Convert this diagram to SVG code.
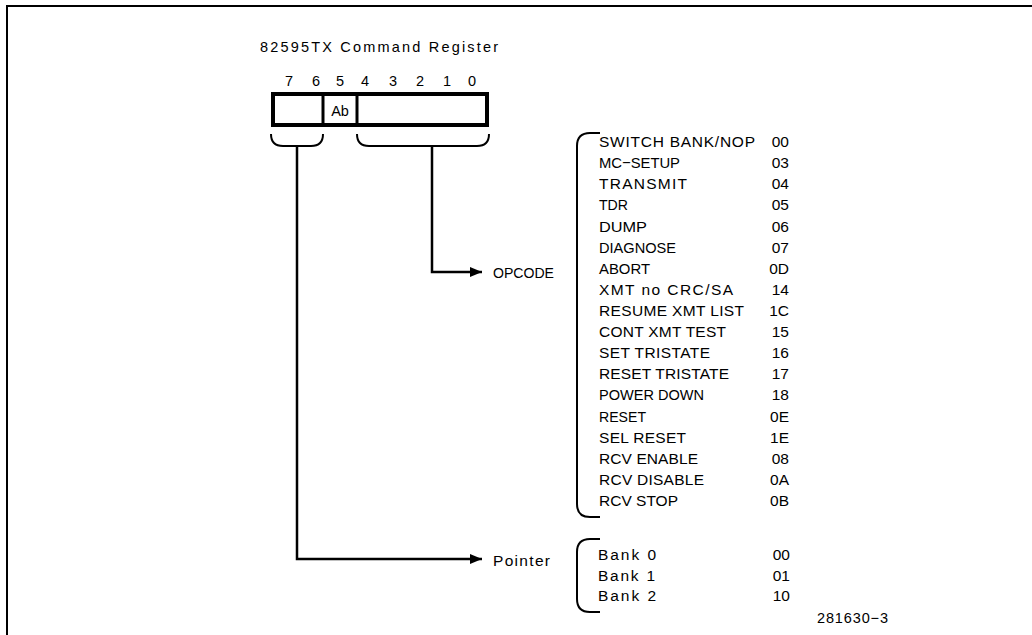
<svg xmlns="http://www.w3.org/2000/svg" width="1032" height="635" viewBox="0 0 1032 635">
<defs>
<style>
text{font-family:"Liberation Sans",Arial,sans-serif;fill:#000}
.t{font-size:15.5px}
.n{font-size:14.5px}
.c{font-size:15.5px;text-anchor:end}
.ln{fill:none;stroke:#000;stroke-width:2.5}
.br{fill:none;stroke:#000;stroke-width:2}
</style>
<marker id="ah" viewBox="0 0 12 10" refX="12" refY="5" markerWidth="12" markerHeight="10" markerUnits="userSpaceOnUse" orient="auto">
<path d="M0,0 L12,5 L0,10 Z" fill="#000"/>
</marker>
</defs>
<rect width="1032" height="635" fill="#fff"/>
<path d="M7,640 V6 H1040" fill="none" stroke="#000" stroke-width="2"/>

<g id="register">
<text x="260" y="52" class="n" textLength="238" lengthAdjust="spacing">82595TX Command Register</text>
<text x="289" y="86" class="n" text-anchor="middle">7</text>
<text x="316" y="86" class="n" text-anchor="middle">6</text>
<text x="340" y="86" class="n" text-anchor="middle">5</text>
<text x="365" y="86" class="n" text-anchor="middle">4</text>
<text x="393" y="86" class="n" text-anchor="middle">3</text>
<text x="420" y="86" class="n" text-anchor="middle">2</text>
<text x="447" y="86" class="n" text-anchor="middle">1</text>
<text x="472" y="86" class="n" text-anchor="middle">0</text>
<rect x="273" y="94" width="214" height="31" fill="#fff" stroke="#000" stroke-width="4"/>
<line x1="323" y1="94" x2="323" y2="125" stroke="#000" stroke-width="3"/>
<line x1="357" y1="94" x2="357" y2="125" stroke="#000" stroke-width="3"/>
<text x="340" y="115.5" class="n" text-anchor="middle">Ab</text>
</g>

<g id="braces">
<path class="br" d="M271,134 Q271,146 283,146 H311 Q323,146 323,134"/>
<path class="br" d="M357,134 Q357,146 369,146 H477 Q489,146 489,134"/>
</g>

<g id="connectors">
<path class="ln" d="M432,146 V272 H482" marker-end="url(#ah)"/>
<path class="ln" d="M297,146 V559 H482" marker-end="url(#ah)"/>
</g>

<g id="opcode-label">
<text x="493" y="277.5" class="t" textLength="61" lengthAdjust="spacingAndGlyphs">OPCODE</text>
</g>
<g id="pointer-label">
<text x="493" y="565.5" class="t" textLength="57" lengthAdjust="spacing">Pointer</text>
</g>

<g id="opcode-list">
<path class="br" d="M600,133 H590 Q577,133 577,146 V504 Q577,517 590,517 H600"/>
<text x="599" y="147" class="t" textLength="156" lengthAdjust="spacing">SWITCH BANK/NOP</text><text x="789" y="147" class="c">00</text>
<text x="599" y="168.1" class="t" textLength="81" lengthAdjust="spacingAndGlyphs">MC−SETUP</text><text x="789" y="168.1" class="c">03</text>
<text x="599" y="189.2" class="t" textLength="88" lengthAdjust="spacing">TRANSMIT</text><text x="789" y="189.2" class="c">04</text>
<text x="599" y="210.4" class="t" textLength="29" lengthAdjust="spacingAndGlyphs">TDR</text><text x="789" y="210.4" class="c">05</text>
<text x="599" y="231.5" class="t" textLength="48" lengthAdjust="spacingAndGlyphs">DUMP</text><text x="789" y="231.5" class="c">06</text>
<text x="599" y="252.6" class="t" textLength="77" lengthAdjust="spacingAndGlyphs">DIAGNOSE</text><text x="789" y="252.6" class="c">07</text>
<text x="599" y="273.7" class="t" textLength="51" lengthAdjust="spacingAndGlyphs">ABORT</text><text x="789" y="273.7" class="c">0D</text>
<text x="599" y="294.8" class="t" textLength="134" lengthAdjust="spacing">XMT no CRC/SA</text><text x="789" y="294.8" class="c">14</text>
<text x="599" y="316" class="t" textLength="145" lengthAdjust="spacing">RESUME XMT LIST</text><text x="789" y="316" class="c">1C</text>
<text x="599" y="337.1" class="t" textLength="127" lengthAdjust="spacing">CONT XMT TEST</text><text x="789" y="337.1" class="c">15</text>
<text x="599" y="358.2" class="t" textLength="111" lengthAdjust="spacing">SET TRISTATE</text><text x="789" y="358.2" class="c">16</text>
<text x="599" y="379.3" class="t" textLength="130" lengthAdjust="spacing">RESET TRISTATE</text><text x="789" y="379.3" class="c">17</text>
<text x="599" y="400.4" class="t" textLength="105" lengthAdjust="spacingAndGlyphs">POWER DOWN</text><text x="789" y="400.4" class="c">18</text>
<text x="599" y="421.6" class="t" textLength="47" lengthAdjust="spacingAndGlyphs">RESET</text><text x="789" y="421.6" class="c">0E</text>
<text x="599" y="442.7" class="t" textLength="87" lengthAdjust="spacing">SEL RESET</text><text x="789" y="442.7" class="c">1E</text>
<text x="599" y="463.8" class="t" textLength="99" lengthAdjust="spacing">RCV ENABLE</text><text x="789" y="463.8" class="c">08</text>
<text x="599" y="484.9" class="t" textLength="105" lengthAdjust="spacing">RCV DISABLE</text><text x="789" y="484.9" class="c">0A</text>
<text x="599" y="506" class="t" textLength="79" lengthAdjust="spacing">RCV STOP</text><text x="789" y="506" class="c">0B</text>
</g>

<g id="bank-list">
<path class="br" d="M600,539 H590 Q577,539 577,552 V599 Q577,612 590,612 H600"/>
<text x="598" y="560" class="t" textLength="58" lengthAdjust="spacing">Bank 0</text><text x="790" y="560" class="c">00</text>
<text x="598" y="580.5" class="t" textLength="57" lengthAdjust="spacing">Bank 1</text><text x="790" y="580.5" class="c">01</text>
<text x="598" y="601" class="t" textLength="58" lengthAdjust="spacing">Bank 2</text><text x="790" y="601" class="c">10</text>
</g>

<g id="figure-id">
<text x="817" y="623" class="n" textLength="71" lengthAdjust="spacing">281630−3</text>
</g>
</svg>
